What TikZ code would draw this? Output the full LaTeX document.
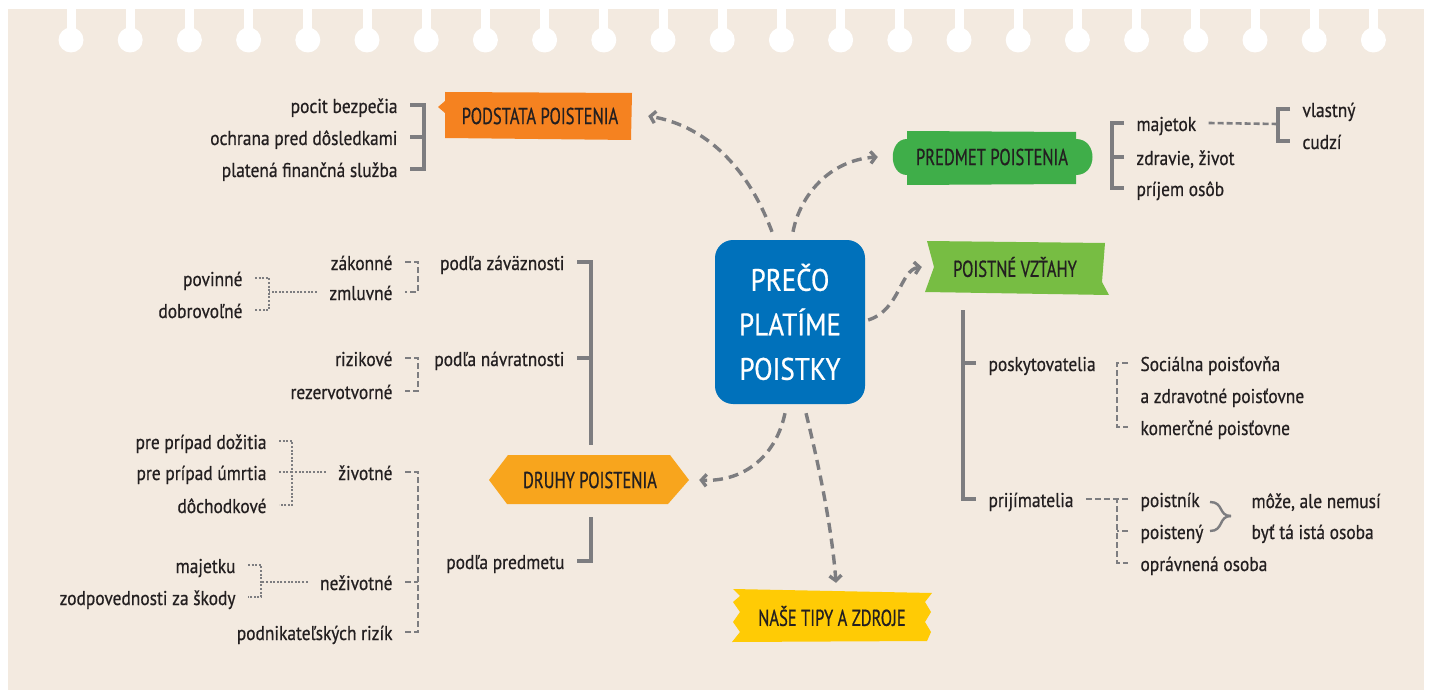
\documentclass[tikz,border=0pt]{standalone}
\usepackage{fontspec}
\setmainfont[FakeStretch=0.87, FakeBold=0.6]{PT Sans}
\newfontfamily\tagfont[FakeStretch=0.72, FakeBold=0.6]{PT Sans}
\usepackage{xcolor}
\definecolor{colorPaper}{RGB}{243,234,224}
\definecolor{colorText}{RGB}{35,31,32}
\definecolor{colorLine}{RGB}{125,125,128}
\definecolor{colorHub}{RGB}{0,113,187}
\definecolor{colorPodstata}{RGB}{245,130,32}
\definecolor{colorPredmet}{RGB}{63,174,73}
\definecolor{colorVztahy}{RGB}{119,189,67}
\definecolor{colorDruhy}{RGB}{248,165,29}
\definecolor{colorTipy}{RGB}{255,203,5}
\usetikzlibrary{arrows.meta, positioning}

\begin{document}
\begin{tikzpicture}[x=1pt, y=-1pt, >={Straight Barb[length=5pt,width=12pt]},
  every node/.style={inner sep=0pt, text=colorText},
  leaf/.style={font=\fontsize{20}{22}\selectfont, outer xsep=12.5pt, text height=16pt, text depth=0pt},
  leafL/.style={leaf, anchor=east},
  leafR/.style={leaf, anchor=west},
  tag/.style={font=\tagfont\fontsize{23}{25}\selectfont},
  branch/.style={colorLine, line width=3.2pt},
  twig/.style={colorLine, line width=2.6pt, dash pattern=on 6pt off 3pt},
  sprig/.style={colorLine, line width=2pt, dash pattern=on 2pt off 1.6pt},
  link/.style={colorLine, line width=3.4pt, dash pattern=on 10pt off 6pt, ->}]
\useasboundingbox (0,0) rectangle (1432,695);
\fill[white] (0,0) rectangle (1432,695);
\fill[colorPaper] (8,9) rectangle (1424,690);
\foreach \i in {0,...,22}{
  \fill[white] (71+\i*59.2-4.5,0) rectangle (71+\i*59.2+4.5,40);
  \fill[white] (71+\i*59.2,40) circle (12.5);
}

\node[fill=colorHub, rounded corners=18pt, minimum width=150pt, minimum height=164pt, align=center, text=white, font=\fontsize{31}{44.5}\selectfont] (hub) at (790,322) {PREČO\\PLATÍME\\POISTKY};

\fill[colorPodstata] (445,92) -- (632,93) -- (631,140) -- (445,138) -- (445,113) -- (438,107) -- (445,101) -- cycle;
\node[tag, minimum width=190pt, minimum height=48pt] (podstata) at (540,116) {PODSTATA POISTENIA};
\fill[colorPredmet] (907,131) -- (1076,132) -- (1076,139) .. controls (1098,139) and (1098,175) .. (1076,175) -- (1076,184) -- (907,185) -- (907,175) .. controls (888,175) and (888,139) .. (907,139) -- cycle;
\node[tag, minimum width=196pt, minimum height=54pt] (predmet) at (992,157) {PREDMET POISTENIA};
\fill[colorVztahy] (927,241) -- (1105,243) -- (1102,282) -- (1109,295) -- (925,292) -- (934,267) -- cycle;
\node[tag, minimum width=186pt, minimum height=52pt] (vztahy) at (1015,267) {POISTNÉ VZŤAHY};
\fill[colorDruhy] (508,455) -- (670,455) -- (689,480) -- (668,504) -- (507,504) -- (489,480) -- cycle;
\node[tag, minimum width=200pt, minimum height=49pt] (druhy) at (590,480) {DRUHY POISTENIA};
\fill[colorTipy] (733,589) -- (932,593) -- (925,602) -- (931,612) -- (925,622) -- (931,632) -- (927,641) -- (732,642) -- (740,632) -- (733,622) -- (740,612) -- (733,602) -- (740,596) -- cycle;
\node[tag, minimum width=200pt, minimum height=52pt] (tipy) at (832,616) {NAŠE TIPY A ZDROJE};

\draw[link] ([shift={(-18,-8)}]hub.north) .. controls (745,160) and (700,125) .. ([xshift=13]podstata.east);
\draw[link] ([shift={(3,-8)}]hub.north) .. controls (800,195) and (830,160) .. ([xshift=-16]predmet.west);
\draw[link] ([shift={(3,-2)}]hub.east) .. controls (900,310) and (900,270) .. (vztahy.west);
\draw[link] ([shift={(-5,9)}]hub.south) .. controls (775,460) and (740,482) .. ([xshift=9]druhy.east);
\draw[link] ([shift={(16,9)}]hub.south) .. controls (820,470) and (832,530) .. ([shift={(4,-7)}]tipy.north);

\node[leafL] (pocit) at (410,105) {pocit bezpečia};
\node[leafL] (ochrana) at (410,137) {ochrana pred dôsledkami};
\node[leafL] (platena) at (410,169) {platená finančná služba};
\draw[branch] (pocit.east) -- ++(14,0) |- (platena.east);
\draw[branch] (ochrana.east) -- ++(14,0);

\node[leafR] (majetok) at (1124,123) {majetok};
\node[leafR] (zdravie) at (1124,157) {zdravie, život};
\node[leafR] (prijem) at (1124,188) {príjem osôb};
\draw[branch] (majetok.west) -- ++(-12,0) |- (prijem.west);
\draw[branch] (zdravie.west) -- ++(-12,0);
\node[leafR] (vlastny) at (1290,109) {vlastný};
\node[leafR] (cudzi) at (1290,141) {cudzí};
\draw[branch] (vlastny.west) -- ++(-12,0) |- (cudzi.west);
\draw[twig] (majetok.east) -- (1278,124);

\node[leafR] (poskyt) at (976,363) {poskytovatelia};
\node[leafR] (prijim) at (976,499) {prijímatelia};
\draw[branch] (963,310) |- (prijim.west);
\draw[branch] (poskyt.west) -- ++(-13,0);
\node[leafR] (socialna) at (1128,363) {Sociálna poisťovňa};
\node[leafR] (zdravotne) at (1128,395) {a zdravotné poisťovne};
\node[leafR] (komercne) at (1128,427) {komerčné poisťovne};
\draw[twig] (socialna.west) -- ++(-11,0) |- (komercne.west);
\node[leafR] (poistnik) at (1128,499) {poistník};
\node[leafR] (posteny) at (1128,531) {poistený};
\node[leafR] (opravnena) at (1128,563) {oprávnená osoba};
\draw[twig] (prijim.east) -- ++(23,0) -- (poistnik.west);
\draw[twig] (poistnik.west) -- ++(-11,0) |- (opravnena.west);
\draw[twig] (posteny.west) -- ++(-11,0);
\draw[colorLine, line width=2.4pt] (1210,502) .. controls (1224,502) and (1218,516) .. (1231,516);
\draw[colorLine, line width=2.4pt] (1210,531) .. controls (1224,531) and (1218,516) .. (1231,516);
\node[leafR] (moze) at (1239,500) {môže, ale nemusí};
\node[leafR] (byt) at (1239,531) {byť tá istá osoba};

\node[leafL] (zavaz) at (577,262) {podľa záväznosti};
\node[leafL] (navrat) at (577,358) {podľa návratnosti};
\draw[branch] (zavaz.east) -- ++(14,0) -- (591,445);
\draw[branch] (navrat.east) -- ++(14,0);
\node[leafL] (predm) at (577,561) {podľa predmetu};
\draw[branch] (591,517) |- (predm.east);

\node[leafL] (zakonne) at (405,262) {zákonné};
\node[leafL] (zmluvne) at (405,292) {zmluvné};
\draw[twig] (zakonne.east) -- ++(13,0) |- (zmluvne.east);
\node[leafL] (povinne) at (255,278) {povinné};
\node[leafL] (dobrovolne) at (255,310) {dobrovoľné};
\draw[sprig] (povinne.east) -- ++(14,0) |- (dobrovolne.east);
\draw[sprig] (zmluvne.west) -- (269,292);

\node[leafL] (rizikove) at (405,358) {rizikové};
\node[leafL] (rezerv) at (405,391) {rezervotvorné};
\draw[twig] (rizikove.east) -- ++(13,0) |- (rezerv.east);

\node[leafL] (zivotne) at (405,472) {životné};
\node[leafL] (nezivotne) at (405,582) {neživotné};
\node[leafL] (podnik) at (405,632) {podnikateľských rizík};
\draw[twig] (zivotne.east) -- ++(13,0) |- (podnik.east);
\draw[twig] (nezivotne.east) -- ++(13,0);

\node[leafL] (dozitia) at (279,441) {pre prípad dožitia};
\node[leafL] (umrtia) at (279,472) {pre prípad úmrtia};
\node[leafL] (dochod) at (279,505) {dôchodkové};
\draw[sprig] (dozitia.east) -- ++(13,0) |- (dochod.east);
\draw[sprig] (umrtia.east) -- ++(13,0);
\draw[sprig] (zivotne.west) -- (292,472);

\node[leafL] (majetku) at (248,565) {majetku};
\node[leafL] (zodpov) at (248,597) {zodpovednosti za škody};
\draw[sprig] (majetku.east) -- ++(13,0) |- (zodpov.east);
\draw[sprig] (nezivotne.west) -- (261,582);
\end{tikzpicture}
\end{document}
